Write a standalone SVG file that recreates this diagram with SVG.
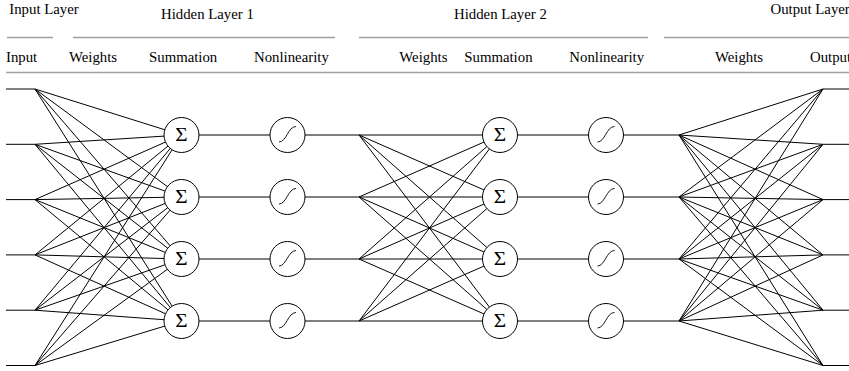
<svg xmlns="http://www.w3.org/2000/svg" width="849" height="371" viewBox="0 0 849 371">
<style>
.t{font-family:"Liberation Serif","Times New Roman",serif;font-size:14.8px;fill:#000}
.rule{stroke:#a0a0a0;stroke-width:1.3;fill:none}
.c{stroke:#000;stroke-width:1;fill:none}
.node{fill:#fff;stroke:#000;stroke-width:1}
.sig{fill:none;stroke:#000;stroke-width:0.9}
.sum{font-family:"Liberation Serif","Times New Roman",serif;font-size:19px;fill:#000;text-anchor:middle}
</style>
<defs>
<g id="sumNode"><circle class="node" cx="0" cy="0" r="17.5"/><text class="sum" x="0" y="6.3" transform="scale(1.12,1)">Σ</text></g>
<g id="sigNode"><circle class="node" cx="0" cy="0" r="17.5"/><path class="sig" d="M-8.5 7 C-1 7 0.5 -8.5 8.5 -8.5"/></g>
</defs>
<g id="header">
<text class="t" x="9.3" y="14">Input Layer</text>
<text class="t" x="161" y="18.5">Hidden Layer 1</text>
<text class="t" x="454" y="18.5">Hidden Layer 2</text>
<text class="t" x="770.5" y="14">Output Layer</text>
<line class="rule" x1="7" y1="37.5" x2="53" y2="37.5"/>
<line class="rule" x1="73" y1="37.5" x2="335" y2="37.5"/>
<line class="rule" x1="359" y1="37.5" x2="648" y2="37.5"/>
<line class="rule" x1="664" y1="37.5" x2="849" y2="37.5"/>
<text class="t" x="6" y="62">Input</text>
<text class="t" x="69" y="62">Weights</text>
<text class="t" x="149" y="62">Summation</text>
<text class="t" x="254" y="62">Nonlinearity</text>
<text class="t" x="399.3" y="62">Weights</text>
<text class="t" x="464.3" y="62">Summation</text>
<text class="t" x="569.3" y="62">Nonlinearity</text>
<text class="t" x="715" y="62">Weights</text>
<text class="t" x="810" y="62">Output</text>
<line class="rule" x1="6" y1="72.5" x2="849" y2="72.5"/>
</g>
<g id="connectors">
<path class="c" d="M6 89H35M6 144.3H35M6 199.6H35M6 254.9H35M6 310.2H35M6 365.5H35"/>
<path class="c" d="M35 89L181.5 135M35 89L181.5 197M35 89L181.5 259M35 89L181.5 321
M35 144.3L181.5 135M35 144.3L181.5 197M35 144.3L181.5 259M35 144.3L181.5 321
M35 199.6L181.5 135M35 199.6L181.5 197M35 199.6L181.5 259M35 199.6L181.5 321
M35 254.9L181.5 135M35 254.9L181.5 197M35 254.9L181.5 259M35 254.9L181.5 321
M35 310.2L181.5 135M35 310.2L181.5 197M35 310.2L181.5 259M35 310.2L181.5 321
M35 365.5L181.5 135M35 365.5L181.5 197M35 365.5L181.5 259M35 365.5L181.5 321"/>
<path class="c" d="M181.5 135H359M181.5 197H359M181.5 259H359M181.5 321H359"/>
<path class="c" d="M359 135L500 135M359 135L500 197M359 135L500 259M359 135L500 321
M359 197L500 135M359 197L500 197M359 197L500 259M359 197L500 321
M359 259L500 135M359 259L500 197M359 259L500 259M359 259L500 321
M359 321L500 135M359 321L500 197M359 321L500 259M359 321L500 321"/>
<path class="c" d="M500 135H679M500 197H679M500 259H679M500 321H679"/>
<path class="c" d="M679 135L823 89M679 135L823 144.3M679 135L823 199.6M679 135L823 254.9M679 135L823 310.2M679 135L823 365.5
M679 197L823 89M679 197L823 144.3M679 197L823 199.6M679 197L823 254.9M679 197L823 310.2M679 197L823 365.5
M679 259L823 89M679 259L823 144.3M679 259L823 199.6M679 259L823 254.9M679 259L823 310.2M679 259L823 365.5
M679 321L823 89M679 321L823 144.3M679 321L823 199.6M679 321L823 254.9M679 321L823 310.2M679 321L823 365.5"/>
<path class="c" d="M823 89H849M823 144.3H849M823 199.6H849M823 254.9H849M823 310.2H849M823 365.5H849"/>
</g>
<g id="sum1-1"><use href="#sumNode" x="181.5" y="135"/></g>
<g id="sum1-2"><use href="#sumNode" x="181.5" y="197"/></g>
<g id="sum1-3"><use href="#sumNode" x="181.5" y="259"/></g>
<g id="sum1-4"><use href="#sumNode" x="181.5" y="321"/></g>
<g id="sig1-1"><use href="#sigNode" x="287.5" y="135"/></g>
<g id="sig1-2"><use href="#sigNode" x="287.5" y="197"/></g>
<g id="sig1-3"><use href="#sigNode" x="287.5" y="259"/></g>
<g id="sig1-4"><use href="#sigNode" x="287.5" y="321"/></g>
<g id="sum2-1"><use href="#sumNode" x="500" y="135"/></g>
<g id="sum2-2"><use href="#sumNode" x="500" y="197"/></g>
<g id="sum2-3"><use href="#sumNode" x="500" y="259"/></g>
<g id="sum2-4"><use href="#sumNode" x="500" y="321"/></g>
<g id="sig2-1"><use href="#sigNode" x="606" y="135"/></g>
<g id="sig2-2"><use href="#sigNode" x="606" y="197"/></g>
<g id="sig2-3"><use href="#sigNode" x="606" y="259"/></g>
<g id="sig2-4"><use href="#sigNode" x="606" y="321"/></g>
</svg>
